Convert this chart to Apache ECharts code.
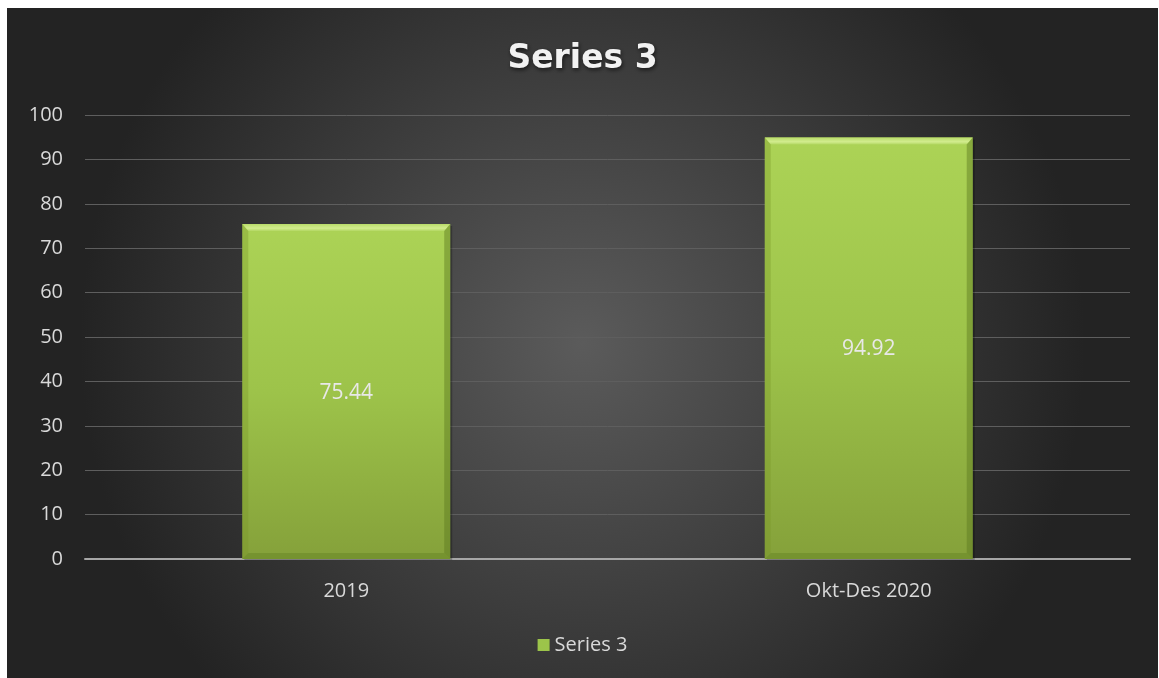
<!DOCTYPE html>
<html><head><meta charset="utf-8">
<script src="https://cdn.jsdelivr.net/npm/echarts@6/dist/echarts.min.js"></script>
<style>
html,body{margin:0;padding:0;background:#fff;width:1159px;height:678px;overflow:hidden}
#c{position:absolute;left:7px;top:8px;width:1151px;height:670px}
</style></head>
<body><div id="c"></div>
<script>
var categories = ['2019', 'Okt-Des 2020'];
var seriesName = 'Series 3';
var values = [75.44, 94.92];
var yMin = 0, yMax = 100, yStep = 10;

var chart = echarts.init(document.getElementById('c'));
var FONT = 'Open Sans';
function renderItem(params, api) {
  var idx = api.value(0), v = api.value(1);
  var top = api.coord([idx, v]);
  var base = api.coord([idx, 0]);
  var band = api.size([1, 0])[0];
  var w = band * 0.398;
  var x0 = top[0] - w / 2, x1 = top[0] + w / 2, y0 = top[1], y1 = base[1];
  var b = 6;
  return {
    type: 'group',
    children: [
      {type: 'rect', shape: {x: x0 + 2, y: y0 + 2, width: w, height: y1 - y0 - 1},
       style: {fill: 'rgba(0,0,0,0.25)'}},
      {type: 'rect', shape: {x: x0, y: y0, width: w, height: y1 - y0},
       style: {fill: new echarts.graphic.LinearGradient(0, 0, 0, 1, [
         {offset: 0, color: '#acd356'}, {offset: 0.5, color: '#9dc34a'}, {offset: 1, color: '#85a13a'}])}},
      {type: 'polygon', shape: {points: [[x0, y0], [x1, y0], [x1 - b, y0 + b + 1], [x0 + b, y0 + b + 1]]},
       style: {fill: new echarts.graphic.LinearGradient(0, 0, 0, 1, [
         {offset: 0, color: '#b9dc6a'}, {offset: 0.6, color: '#d2ec8e'}, {offset: 1, color: '#b2d762'}])}},
      {type: 'polygon', shape: {points: [[x0, y0], [x0 + b, y0 + b + 1], [x0 + b, y1 - b], [x0, y1]]},
       style: {fill: 'rgba(120,150,40,0.35)'}},
      {type: 'polygon', shape: {points: [[x1, y0], [x1 - b, y0 + b + 1], [x1 - b, y1 - b], [x1, y1]]},
       style: {fill: 'rgba(90,120,30,0.45)'}},
      {type: 'polygon', shape: {points: [[x0, y1], [x0 + b, y1 - b], [x1 - b, y1 - b], [x1, y1]]},
       style: {fill: 'rgba(90,120,30,0.35)'}},
      {type: 'text', x: top[0], y: (y0 + y1) / 2 + 1,
       style: {text: v.toFixed(2), fill: '#e8e8e8', font: '21px "' + FONT + '"', align: 'center', verticalAlign: 'middle'}}
    ]
  };
}
chart.setOption({
  backgroundColor: new echarts.graphic.RadialGradient(0.5, 0.5, 0.75, [
    {offset: 0, color: '#5b5b5b'}, {offset: 1, color: '#232323'}]),
  textStyle: {fontFamily: FONT},
  title: {text: seriesName, left: 'center', top: 30,
    textStyle: {color: '#f2f2f2', fontSize: 33, fontWeight: 'bold', fontFamily: 'DejaVu Sans',
      textShadowColor: 'rgba(0,0,0,0.6)', textShadowBlur: 4, textShadowOffsetX: 1, textShadowOffsetY: 2}},
  legend: {data: [{name: seriesName, icon: 'rect'}], bottom: 18, left: 'center', itemWidth: 12, itemHeight: 12, itemGap: 7,
    textStyle: {color: '#d9d9d9', fontSize: 20, fontFamily: FONT}},
  grid: {left: 78, right: 28, top: 107, bottom: 119, containLabel: false},
  xAxis: {type: 'category', data: categories,
    axisLine: {lineStyle: {color: '#a6a6a6', width: 2}}, axisTick: {show: false},
    axisLabel: {color: '#d9d9d9', fontSize: 20, margin: 22, fontFamily: FONT}},
  yAxis: {type: 'value', min: yMin, max: yMax, interval: yStep,
    axisLine: {show: false}, axisTick: {show: false},
    splitLine: {lineStyle: {color: '#5e5e5e', width: 1}},
    axisLabel: {color: '#d9d9d9', fontSize: 20, margin: 22, fontFamily: FONT}},
  series: [{type: 'custom', name: seriesName, renderItem: renderItem,
    itemStyle: {color: '#9cc44a'},
    encode: {x: 0, y: 1},
    data: values.map(function (v, i) { return [i, v]; })}]
});
</script></body></html>
